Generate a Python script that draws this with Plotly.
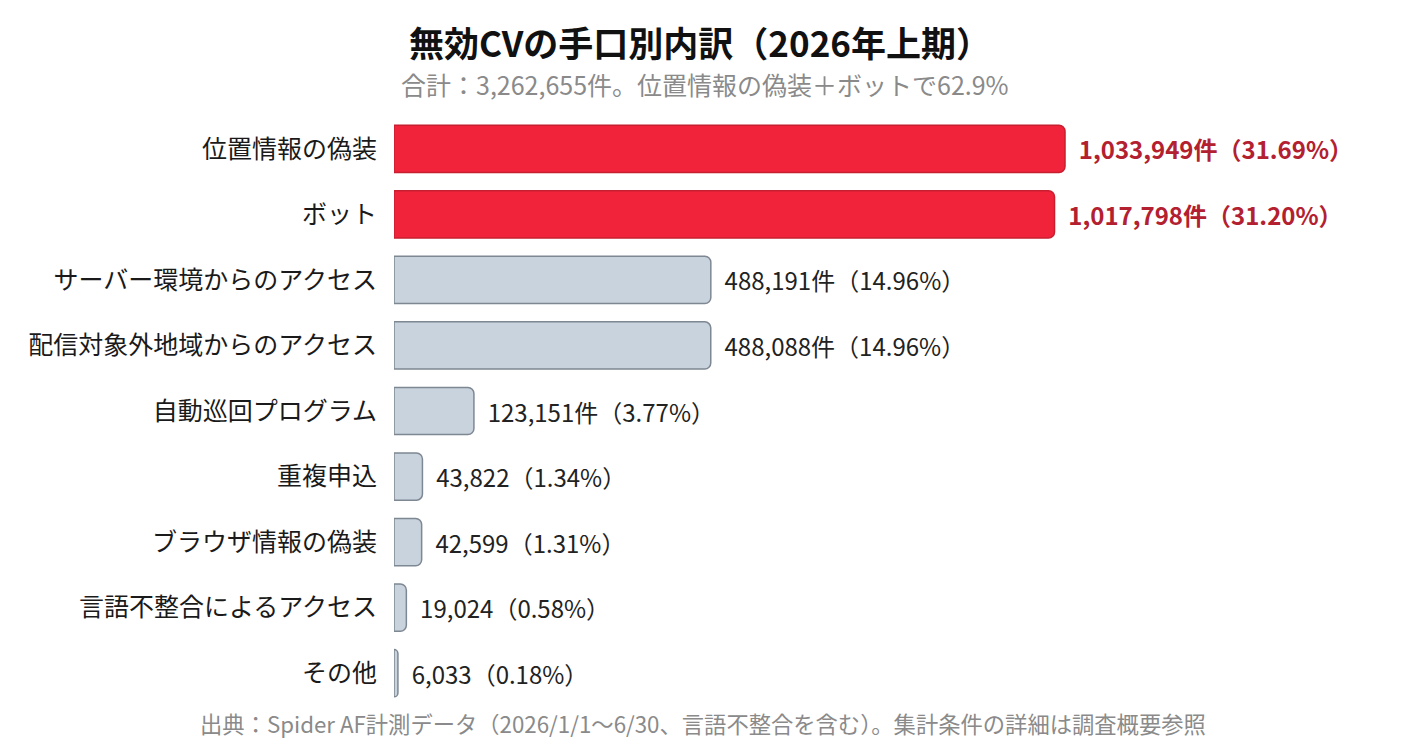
import plotly.graph_objects as go

categories = [
    "位置情報の偽装",
    "ボット",
    "サーバー環境からのアクセス",
    "配信対象外地域からのアクセス",
    "自動巡回プログラム",
    "重複申込",
    "ブラウザ情報の偽装",
    "言語不整合によるアクセス",
    "その他",
]
counts = [1033949, 1017798, 488191, 488088, 123151, 43822, 42599, 19024, 6033]
shares = [31.69, 31.20, 14.96, 14.96, 3.77, 1.34, 1.31, 0.58, 0.18]
units = ["件", "件", "件", "件", "件", "", "", "", ""]
highlight = [True, True, False, False, False, False, False, False, False]

FONT = "Noto Sans CJK JP"
RED = "#f0233a"
RED_LINE = "#c81f30"
RED_TEXT = "#b3202f"
GRAY = "#c9d3de"
GRAY_LINE = "#7e8893"

# page has an 8px body margin, so the figure is drawn 8px smaller on each side
W, H = 1392, 736

labels = []
text_colors = []
for c, s, u, h in zip(counts, shares, units, highlight):
    t = f"{c:,}{u}（{s:.2f}%）"
    if h:
        t = "<b>" + t + "</b>"
    labels.append("  " + t)
    text_colors.append(RED_TEXT if h else "#222222")

fig = go.Figure(
    go.Bar(
        x=counts,
        y=categories,
        orientation="h",
        marker=dict(
            color=[RED if h else GRAY for h in highlight],
            line=dict(color=[RED_LINE if h else GRAY_LINE for h in highlight], width=1.5),
            cornerradius=6,
        ),
        text=labels,
        textposition="outside",
        textfont=dict(family=FONT, size=24, color=text_colors),
        cliponaxis=False,
        hoverinfo="skip",
    )
)

fig.update_layout(
    width=W,
    height=H,
    paper_bgcolor="white",
    plot_bgcolor="white",
    margin=dict(l=386, r=8, t=108, b=38),
    bargap=0.28,
    showlegend=False,
    title=dict(
        text="<b>無効CVの手口別内訳（2026年上期）</b>",
        x=692 / W, xref="container", xanchor="center",
        y=1 - 37 / H, yref="container", yanchor="middle",
        font=dict(family=FONT, size=35, color="#111111"),
    ),
    font=dict(family=FONT),
)

fig.update_xaxes(visible=False, range=[0, 1537800])
fig.update_yaxes(
    autorange="reversed",
    showgrid=False,
    showline=False,
    ticks="",
    automargin=False,
    ticklabelstandoff=16,
    tickfont=dict(family=FONT, size=25, color="#1a1a1a"),
)

fig.add_annotation(
    text="合計：3,262,655件。位置情報の偽装＋ボットで62.9%",
    xref="paper", yref="paper", x=(705 - 394) / 998, y=(706 - 84) / 590,
    xanchor="center", yanchor="middle", showarrow=False,
    font=dict(family=FONT, size=25, color="#8a8a8a"),
)
fig.add_annotation(
    text="出典：Spider AF計測データ（2026/1/1〜6/30、言語不整合を含む）。集計条件の詳細は調査概要参照",
    xref="paper", yref="paper", x=(703 - 394) / 998, y=(706 - 723) / 590,
    xanchor="center", yanchor="middle", showarrow=False,
    font=dict(family=FONT, size=22.3, color="#8a8a8a"),
)

fig.write_html("out.html")
